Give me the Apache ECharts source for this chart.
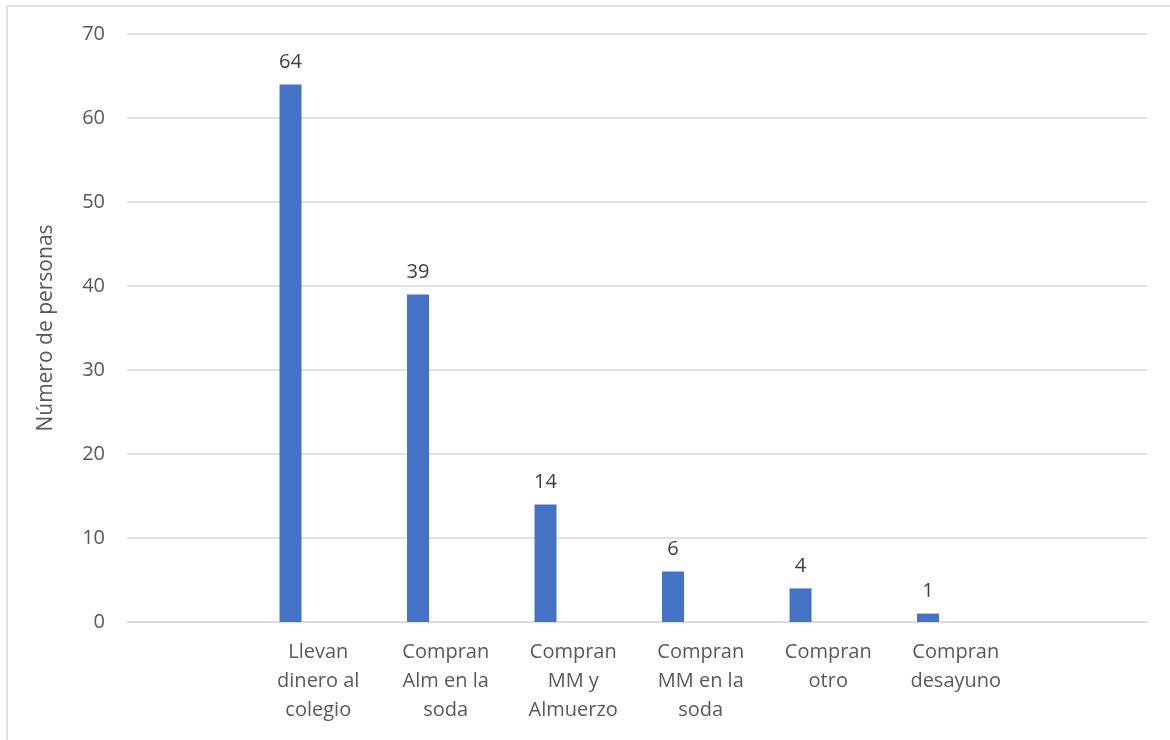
<!DOCTYPE html>
<html>
<head>
<meta charset="utf-8">
<script src="https://cdn.jsdelivr.net/npm/echarts@6/dist/echarts.min.js"></script>
<style>
  html, body { margin: 0; padding: 0; background: #ffffff; }
  #chart { width: 1170px; height: 740px; }
</style>
</head>
<body>
<div id="chart"></div>
<script>
const categories = ['', 'Llevan\ndinero al\ncolegio', 'Compran\nAlm en la\nsoda', 'Compran\nMM y\nAlmuerzo', 'Compran\nMM en la\nsoda', 'Compran\notro', 'Compran\ndesayuno', ''];
const values = [null, 64, 39, 14, 6, 4, 1, null];
const emptySeries = [null, null, null, null, null, null, null, null];
const yTicks = { min: 0, max: 70, interval: 10 };
const yAxisTitle = 'Número de personas';

const chart = echarts.init(document.getElementById('chart'), null, { renderer: 'canvas' });
const FONT = '"Open Sans", "Noto Sans", sans-serif';
chart.setOption({
  animation: false,
  backgroundColor: '#ffffff',
  graphic: [{
    type: 'rect',
    shape: { x: 7, y: 6, width: 1300, height: 900 },
    style: { fill: 'none', stroke: '#d9d9d9', lineWidth: 1.5 },
    silent: true
  }],
  grid: { left: 127, right: 23, top: 34, bottom: 118, containLabel: false },
  xAxis: {
    type: 'category',
    data: categories,
    axisTick: { show: false },
    axisLine: { lineStyle: { color: '#d9d9d9', width: 1.5 } },
    axisLabel: {
      interval: 0,
      color: '#595959',
      fontFamily: FONT,
      fontSize: 20,
      lineHeight: 29,
      margin: 16
    }
  },
  yAxis: {
    type: 'value',
    min: yTicks.min,
    max: yTicks.max,
    interval: yTicks.interval,
    name: yAxisTitle,
    nameLocation: 'middle',
    nameGap: 70,
    nameTextStyle: { color: '#595959', fontFamily: FONT, fontSize: 21 },
    axisLine: { show: false },
    axisTick: { show: false },
    splitLine: { lineStyle: { color: '#d9d9d9', width: 1.5 } },
    axisLabel: { color: '#595959', fontFamily: FONT, fontSize: 20, margin: 22 }
  },
  series: [
    {
      type: 'bar',
      data: values,
      barWidth: 22,
      barGap: '152%',
      itemStyle: { color: '#4472c4' },
      label: {
        show: true,
        position: 'top',
        distance: 12,
        color: '#404040',
        fontFamily: FONT,
        fontSize: 20
      }
    },
    {
      type: 'bar',
      data: emptySeries,
      barWidth: 22,
      barGap: '152%',
      itemStyle: { color: 'transparent' },
      silent: true
    }
  ]
});
</script>
</body>
</html>
